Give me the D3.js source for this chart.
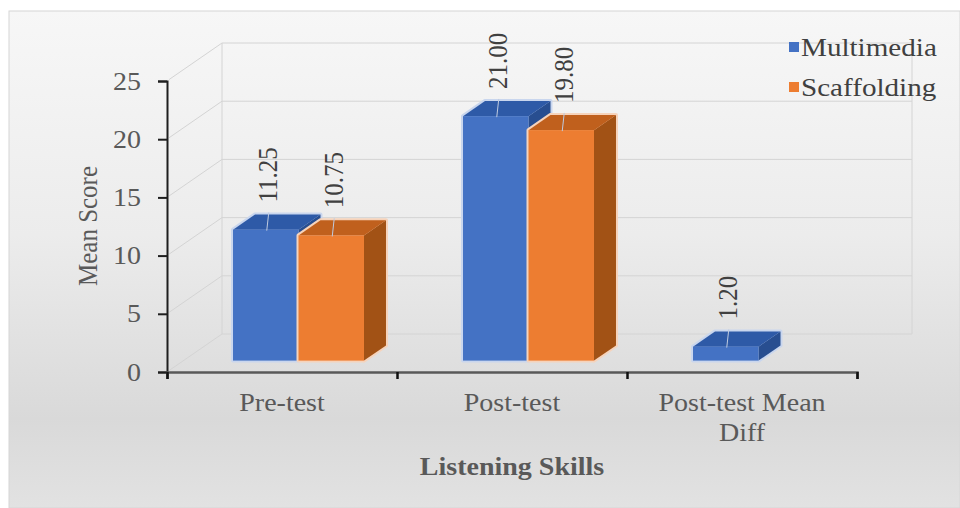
<!DOCTYPE html>
<html>
<head>
<meta charset="utf-8">
<script src="https://cdn.jsdelivr.net/npm/d3@7"></script>
<style>
  html, body { margin: 0; padding: 0; background: #ffffff; }
  svg { display: block; }
</style>
</head>
<body>
<svg id="chart" width="960" height="508"></svg>
<script>
// ---- data ----
const categories = ["Pre-test", "Post-test", "Post-test Mean Diff"];
const seriesNames = ["Multimedia", "Scaffolding"];
const multimediaValues = [11.25, 21.00, 1.20];
const scaffoldingValues = [10.75, 19.80, null];
const yTicks = [0, 5, 10, 15, 20, 25];

const seriesValues = [multimediaValues, scaffoldingValues];
const palette = {
  Multimedia:  { front: "#4472C4", top: "#2E5AA7", side: "#284E90", halo: "#c9d6ee" },
  Scaffolding: { front: "#ED7D31", top: "#C0601D", side: "#A25215", halo: "#f6d3bb" }
};

const svg = d3.select("#chart");
const W = 960, H = 508;
const SX = 1.12; // horizontal text stretch
const SERIF = "'Liberation Serif', 'Times New Roman', serif";

// ---- background panel ----
const defs = svg.append("defs");
const grad = defs.append("linearGradient").attr("id", "bg").attr("x1", 0).attr("y1", 0).attr("x2", 0).attr("y2", 1);
grad.append("stop").attr("offset", "0%").attr("stop-color", "#f7f7f7");
grad.append("stop").attr("offset", "45%").attr("stop-color", "#ececec");
grad.append("stop").attr("offset", "82%").attr("stop-color", "#d9d9d9");
grad.append("stop").attr("offset", "100%").attr("stop-color", "#e2e2e2");
svg.append("rect").attr("x", 9).attr("y", 11).attr("width", W - 9).attr("height", H - 11)
  .attr("fill", "url(#bg)").attr("stroke", "#d6d6d6").attr("stroke-width", 1);

// ---- scales (front plane) ----
const x = d3.scaleBand().domain(categories).range([167, 857]).padding(0);
const xSub = d3.scaleBand().domain(seriesNames).range([0, x.bandwidth()]).paddingInner(0).paddingOuter(0.756);
const y = d3.scaleLinear().domain([0, 25]).range([372, 81]);

// depth of the plot box and position of the bars inside it
const depth = { dx: 55, dy: -38 };
const barFront = 0.3, barBack = 0.7;
const fo = { dx: depth.dx * barFront, dy: depth.dy * barFront };
const bd = { dx: depth.dx * (barBack - barFront), dy: depth.dy * (barBack - barFront) };

// ---- back wall and side wall lines ----
const grid = svg.append("g").attr("stroke", "#d4d4d4").attr("stroke-width", 1).attr("fill", "none");
const xL = x.range()[0], xR = x.range()[1];
yTicks.forEach(t => {
  grid.append("line")
    .attr("x1", xL + depth.dx).attr("x2", xR + depth.dx)
    .attr("y1", y(t) + depth.dy).attr("y2", y(t) + depth.dy);
  grid.append("line")
    .attr("x1", xL + 2).attr("y1", y(t) - 1.4)
    .attr("x2", xL + depth.dx).attr("y2", y(t) + depth.dy);
});
grid.append("line").attr("x1", xL + depth.dx).attr("x2", xL + depth.dx)
  .attr("y1", y(25) + depth.dy).attr("y2", y(0) + depth.dy);
grid.append("line").attr("x1", xR + depth.dx).attr("x2", xR + depth.dx)
  .attr("y1", y(25) + depth.dy).attr("y2", y(0) + depth.dy);

// ---- axes ----
const yAxis = d3.axisLeft(y).tickValues(yTicks).tickSize(9).tickFormat("");
const gy = svg.append("g").attr("transform", `translate(${xL},0)`).call(yAxis);
gy.select(".domain").attr("stroke", "#1e1e1e").attr("stroke-width", 2);
gy.selectAll(".tick line").attr("stroke", "#1e1e1e").attr("stroke-width", 2);

const edges = d3.range(categories.length + 1);
const xEdge = d3.scaleLinear().domain([0, categories.length]).range([xL, xR]);
const xAxis = d3.axisBottom(xEdge).tickValues(edges).tickSize(7).tickFormat("");
const gx = svg.append("g").attr("transform", `translate(0,${y(0)})`).call(xAxis);
gx.select(".domain").attr("stroke", "#595959").attr("stroke-width", 2.5);
gx.selectAll(".tick line").attr("stroke", "#111").attr("stroke-width", 2.5);

function sText(g, px, py, str, opts = {}) {
  const t = g.append("text")
    .attr("transform", `translate(${px},${py}) scale(${SX},1)` + (opts.rotate ? ` rotate(${opts.rotate})` : ""))
    .attr("text-anchor", opts.anchor || "middle")
    .attr("font-family", SERIF)
    .attr("font-size", opts.size || 25)
    .attr("fill", opts.fill || "#595959")
    .text(str);
  if (opts.dy) t.attr("dy", opts.dy);
  if (opts.weight) t.attr("font-weight", opts.weight);
  return t;
}

// y tick labels
const tl = svg.append("g");
yTicks.forEach(t => sText(tl, 141, y(t), d3.format("d")(t), { anchor: "end", dy: "0.34em" }));

// category labels
const cl = svg.append("g");
categories.forEach(c => {
  const cx = x(c) + x.bandwidth() / 2;
  const lines = c === "Post-test Mean Diff" ? ["Post-test Mean", "Diff"] : [c];
  lines.forEach((ln, i) => sText(cl, cx, 411 + i * 30, ln, { size: 25 }));
});

// axis titles
sText(svg, 512, 475, "Listening Skills", { size: 25, weight: "bold" });
sText(svg, 88, 226, "Mean Score", { size: 25, rotate: -90, dy: "0.33em" });

// ---- 3D bars ----
const bars = svg.append("g");
const labels = svg.append("g");
const fmt = d3.format(".2f");
categories.forEach((c, ci) => {
  seriesNames.forEach((s, si) => {
    const v = seriesValues[si][ci];
    if (v == null) return;
    const col = palette[s];
    const x0 = x(c) + xSub(s) + fo.dx, x1 = x0 + xSub.bandwidth();
    const yb = y(0) + fo.dy, yt = y(v) + fo.dy;
    const g = bars.append("g");
    const outline = [[x0, yb], [x0, yt], [x0 + bd.dx, yt + bd.dy], [x1 + bd.dx, yt + bd.dy], [x1 + bd.dx, yb + bd.dy], [x1, yb]];
    g.append("polygon").attr("points", outline.map(p => p.join(",")).join(" "))
      .attr("fill", col.halo).attr("stroke", col.halo).attr("stroke-width", 4).attr("stroke-linejoin", "round");
    g.append("polygon")
      .attr("points", [[x1, yt], [x1 + bd.dx, yt + bd.dy], [x1 + bd.dx, yb + bd.dy], [x1, yb]].map(p => p.join(",")).join(" "))
      .attr("fill", col.side);
    g.append("polygon")
      .attr("points", [[x0, yt], [x1, yt], [x1 + bd.dx, yt + bd.dy], [x0 + bd.dx, yt + bd.dy]].map(p => p.join(",")).join(" "))
      .attr("fill", col.top);
    g.append("rect").attr("x", x0).attr("y", yt).attr("width", x1 - x0).attr("height", yb - yt)
      .attr("fill", col.front);

    // value label with leader line
    const cx = (x0 + x1) / 2 + 2;
    const topBack = yt + bd.dy;
    labels.append("line")
      .attr("x1", cx + 1).attr("y1", topBack - 2)
      .attr("x2", cx - 1).attr("y2", yt + 1)
      .attr("stroke", "#bfcbe0").attr("stroke-width", 1);
    sText(labels, cx, topBack - 12, fmt(v), { rotate: -90, anchor: "start", dy: "0.34em", fill: "#404040", size: 25 });
  });
});

// ---- legend ----
const lg = svg.append("g");
seriesNames.forEach((s, i) => {
  const cy = 47 + i * 40;
  lg.append("rect").attr("x", 789).attr("y", cy - 5).attr("width", 10).attr("height", 10)
    .attr("fill", palette[s].front);
  sText(lg, 801, cy, s, { anchor: "start", dy: "0.34em", fill: "#404040", size: 26 });
});
</script>
</body>
</html>
